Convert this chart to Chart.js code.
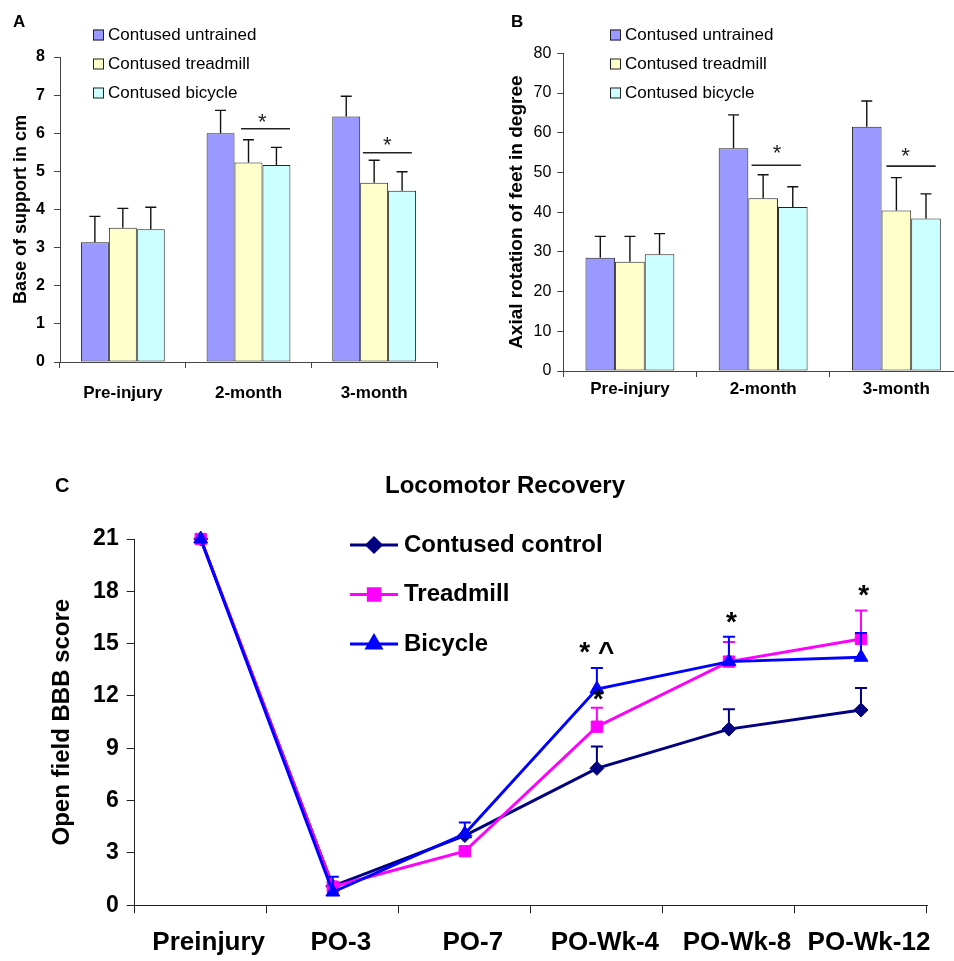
<!DOCTYPE html>
<html>
<head>
<meta charset="utf-8">
<script src="https://cdn.jsdelivr.net/npm/chart.js@4.4.0/dist/chart.umd.min.js"></script>
<style>
  html, body { margin: 0; padding: 0; background: #fff; overflow: hidden; width: 954px; height: 961px; }
  .box { position: absolute; }
  .lbl { position: absolute; font-family: 'Liberation Sans', Arial, sans-serif; font-weight: bold; line-height: 1; white-space: nowrap; color: #000; }
</style>
</head>
<body>
<div class="box" style="left:0;top:0"><canvas id="cA" width="470" height="420"></canvas></div>
<div class="box" style="left:470px;top:0"><canvas id="cB" width="500" height="420"></canvas></div>
<div class="box" style="left:0;top:430px"><canvas id="cC" width="954" height="531"></canvas></div>
<div class="lbl" style="left:13px;top:13px;font-size:17px">A</div>
<div class="lbl" style="left:511px;top:13px;font-size:17px">B</div>
<div class="lbl" style="left:55px;top:475px;font-size:20px">C</div>
<div class="lbl" style="left:385px;top:473px;font-size:24px">Locomotor Recovery</div>
<script>
// groups and time points
const groupLabels = ["Pre-injury", "2-month", "3-month"];
const groupNames = ["Contused untrained", "Contused treadmill", "Contused bicycle"];

// A - base of support (cm), mean and SD
const supportUntrained = [3.14, 6.00, 6.44];
const supportTreadmill = [3.52, 5.23, 4.70];
const supportBicycle = [3.48, 5.17, 4.49];
const supportUntrainedSd = [0.68, 0.60, 0.53];
const supportTreadmillSd = [0.51, 0.60, 0.59];
const supportBicycleSd = [0.58, 0.46, 0.50];
const supportAxis = [0, 8, 1];

// B - axial rotation of feet (degree)
const rotationUntrained = [28.5, 56.1, 61.5];
const rotationTreadmill = [27.5, 43.5, 40.4];
const rotationBicycle = [29.4, 41.3, 38.4];
const rotationUntrainedSd = [5.4, 8.4, 6.5];
const rotationTreadmillSd = [6.4, 5.9, 8.3];
const rotationBicycleSd = [5.2, 5.1, 6.2];
const rotationAxis = [0, 80, 10];

// C - open field BBB score
const timePoints = ["Preinjury", "PO-3", "PO-7", "PO-Wk-4", "PO-Wk-8", "PO-Wk-12"];
const lineNames = ["Contused control", "Treadmill", "Bicycle"];
const bbbControl = [21, 1.1, 4.0, 7.85, 10.1, 11.2];
const bbbTreadmill = [21, 1.07, 3.1, 10.24, 13.97, 15.27];
const bbbBicycle = [21, 0.76, 4.1, 12.4, 13.97, 14.22];
const bbbControlSd = [0, 0, 0, 1.25, 1.14, 1.26];
const bbbTreadmillSd = [0, 0, 0.1, 1.09, 1.13, 1.63];
const bbbBicycleSd = [0, 0.88, 0.65, 1.2, 1.43, 1.39];
const bbbAxis = [0, 21, 3];

const FONT = "'Liberation Sans', Arial, sans-serif";
Chart.defaults.font.family = FONT;
Chart.defaults.color = '#000';

// upward error bars (mean + SD)
const errorBars = {
  id: 'errorBars',
  afterDatasetsDraw(chart, args, o) {
    const ctx = chart.ctx, y = chart.scales.y;
    chart.data.datasets.forEach((ds, di) => {
      if (!ds.sd) return;
      const meta = chart.getDatasetMeta(di);
      ctx.save();
      ctx.strokeStyle = o.color || ds.borderColor;
      ctx.lineWidth = o.width;
      meta.data.forEach((el, i) => {
        const s = ds.sd[i];
        if (!s) return;
        const top = y.getPixelForValue(ds.data[i] + s);
        ctx.beginPath();
        ctx.moveTo(el.x, el.y);
        ctx.lineTo(el.x, top);
        ctx.moveTo(el.x - o.cap, top);
        ctx.lineTo(el.x + o.cap, top);
        ctx.stroke();
      });
      ctx.restore();
    });
  }
};

// significance lines and stars
const sigMarks = {
  id: 'sigMarks',
  afterDatasetsDraw(chart, args, o) {
    const ctx = chart.ctx, x = chart.scales.x, y = chart.scales.y;
    ctx.save();
    ctx.strokeStyle = ctx.fillStyle = o.color;
    ctx.lineWidth = o.lineWidth || 1.5;
    (o.lines || []).forEach(m => {
      const yy = y.getPixelForValue(m.y);
      ctx.beginPath();
      ctx.moveTo(x.getPixelForValue(m.at - m.half), yy);
      ctx.lineTo(x.getPixelForValue(m.at + m.half), yy);
      ctx.stroke();
    });
    ctx.textAlign = 'center';
    ctx.textBaseline = 'alphabetic';
    ctx.font = o.font;
    (o.texts || []).forEach(t => {
      ctx.fillText(t.text, x.getPixelForValue(t.at), y.getPixelForValue(t.y) + o.size * 0.57);
    });
    ctx.restore();
  }
};

// legend drawn as a column, free of the layout
const sideLegend = {
  id: 'sideLegend',
  afterDraw(chart, args, o) {
    const ctx = chart.ctx;
    ctx.save();
    chart.data.datasets.forEach((ds, i) => {
      const yy = o.top + i * o.gap;
      if (o.kind === 'box') {
        ctx.fillStyle = ds.backgroundColor;
        ctx.fillRect(o.x, yy - o.size / 2, o.size, o.size);
        ctx.strokeStyle = ds.borderColor;
        ctx.lineWidth = 1;
        ctx.strokeRect(o.x + 0.5, yy - o.size / 2 + 0.5, o.size - 1, o.size - 1);
      } else {
        ctx.strokeStyle = ds.borderColor;
        ctx.lineWidth = ds.borderWidth;
        ctx.beginPath();
        ctx.moveTo(o.x, yy);
        ctx.lineTo(o.x + o.len, yy);
        ctx.stroke();
        ctx.fillStyle = ds.pointBackgroundColor;
        Chart.helpers.drawPoint(ctx, {
          pointStyle: ds.pointStyle, radius: ds.pointRadius, borderWidth: 1, rotation: 0
        }, o.x + o.len / 2, yy);
      }
      ctx.fillStyle = '#000';
      ctx.font = o.font;
      ctx.textAlign = 'left';
      ctx.textBaseline = 'middle';
      ctx.fillText(ds.label, o.textX, yy);
    });
    ctx.restore();
  }
};

const barColors = ['#9999FF', '#FFFFCC', '#CCFFFF'];

function barPanel(id, series, sds, axis, cfg) {
  return new Chart(document.getElementById(id), {
    type: 'bar',
    data: {
      labels: groupLabels,
      datasets: series.map((vals, i) => ({
        label: groupNames[i],
        data: vals,
        sd: sds[i],
        backgroundColor: barColors[i],
        borderColor: '#222',
        borderWidth: 1,
        borderSkipped: false,
        categoryPercentage: 0.667,
        barPercentage: 1.0
      }))
    },
    options: {
      responsive: false,
      animation: false,
      layout: { padding: cfg.padding },
      plugins: {
        legend: { display: false },
        tooltip: { enabled: false },
        errorBars: { color: '#111', width: 1.4, cap: 5.5 },
        sigMarks: { color: '#222', lineWidth: 1.6, font: '22px ' + FONT, size: 22, lines: cfg.lines, texts: cfg.texts },
        sideLegend: { kind: 'box', x: cfg.legendX, textX: cfg.legendX + 15, top: 35, gap: 29, size: 11, font: '17px ' + FONT }
      },
      scales: {
        x: {
          afterFit: s => { s.height = cfg.xHeight; },
          grid: { display: true, drawOnChartArea: false, tickLength: 6, color: '#444', offset: true },
          border: { display: true, color: '#444', width: 1 },
          ticks: { font: { size: 17, weight: 'bold' }, padding: cfg.xPad, maxRotation: 0, autoSkip: false }
        },
        y: {
          min: axis[0], max: axis[1],
          afterFit: s => { s.width = cfg.yWidth; },
          grid: { display: true, drawOnChartArea: false, tickLength: 6, color: '#444' },
          border: { display: true, color: '#444', width: 1 },
          ticks: { stepSize: axis[2], font: cfg.tickFont, padding: cfg.yPad },
          title: { display: true, text: cfg.title, font: { size: cfg.titleSize, weight: 'bold' }, padding: { top: cfg.titlePad, bottom: 0 } }
        }
      }
    },
    plugins: [errorBars, sigMarks, sideLegend]
  });
}

barPanel('cA',
  [supportUntrained, supportTreadmill, supportBicycle],
  [supportUntrainedSd, supportTreadmillSd, supportBicycleSd],
  supportAxis, {
    padding: { top: 57, left: 0, right: 33, bottom: 0 },
    xHeight: 58, yWidth: 60, xPad: 15, yPad: 9,
    tickFont: { size: 16, weight: 'bold' },
    title: 'Base of support in cm', titleSize: 18, titlePad: 10,
    legendX: 93,
    lines: [{ at: 1.135, half: 0.195, y: 6.12 }, { at: 2.105, half: 0.195, y: 5.49 }],
    texts: [{ text: '*', at: 1.109, y: 6.43 }, { text: '*', at: 2.104, y: 5.83 }]
  });

barPanel('cB',
  [rotationUntrained, rotationTreadmill, rotationBicycle],
  [rotationUntrainedSd, rotationTreadmillSd, rotationBicycleSd],
  rotationAxis, {
    padding: { top: 53.3, left: 0, right: 7, bottom: 0 },
    xHeight: 49, yWidth: 93.3, xPad: 2, yPad: 6,
    tickFont: { size: 16 },
    title: 'Axial rotation of feet in degree', titleSize: 19, titlePad: 35,
    legendX: 140,
    lines: [{ at: 1.098, half: 0.185, y: 51.8 }, { at: 2.11, half: 0.185, y: 51.6 }],
    texts: [{ text: '*', at: 1.105, y: 56.2 }, { text: '*', at: 2.069, y: 55.5 }]
  });

const lineStyles = [
  { color: '#000080', point: 'rectRot', r: 7, order: 2 },
  { color: '#FF00FF', point: 'rect', r: 8, order: 1 },
  { color: '#0000FF', point: 'triangle', r: 8, order: 0 }
];

new Chart(document.getElementById('cC'), {
  type: 'line',
  data: {
    labels: timePoints,
    datasets: [bbbControl, bbbTreadmill, bbbBicycle].map((vals, i) => ({
      label: lineNames[i],
      data: vals,
      sd: [bbbControlSd, bbbTreadmillSd, bbbBicycleSd][i],
      borderColor: lineStyles[i].color,
      backgroundColor: lineStyles[i].color,
      pointBackgroundColor: lineStyles[i].color,
      pointBorderColor: lineStyles[i].color,
      pointStyle: lineStyles[i].point,
      pointRadius: lineStyles[i].r,
      pointBorderWidth: 1,
      borderWidth: 3,
      tension: 0,
      clip: false,
      order: lineStyles[i].order
    }))
  },
  options: {
    responsive: false,
    animation: false,
    layout: { padding: { top: 109, left: 0, right: 27, bottom: 0 } },
    plugins: {
      legend: { display: false },
      tooltip: { enabled: false },
      errorBars: { width: 2, cap: 6 },
      sigMarks: {
        color: '#000', font: 'bold 28px ' + FONT, size: 28,
        texts: [
          { text: '* ^', at: 3.0, y: 14.9 },
          { text: '*', at: 3.01, y: 12.2 },
          { text: '*', at: 4.02, y: 16.65 },
          { text: '*', at: 5.02, y: 18.18 }
        ]
      },
      sideLegend: { kind: 'line', x: 350, len: 48, textX: 404, top: 115, gap: 49.5, font: 'bold 24px ' + FONT }
    },
    scales: {
      x: {
        offset: true,
        afterFit: s => { s.height = 55.7; },
        grid: { display: true, drawOnChartArea: false, tickLength: 8, color: '#222', offset: true },
        border: { display: true, color: '#222', width: 1 },
        ticks: { font: { size: 26, weight: 'bold' }, padding: 14, labelOffset: 8, maxRotation: 0, minRotation: 0, autoSkip: false }
      },
      y: {
        min: bbbAxis[0], max: bbbAxis[1],
        afterFit: s => { s.width = 134.7; },
        grid: { display: true, drawOnChartArea: false, tickLength: 8, color: '#222' },
        border: { display: true, color: '#222', width: 1 },
        ticks: { stepSize: bbbAxis[2], font: { size: 23, weight: 'bold' }, padding: 8 },
        title: { display: true, text: 'Open field BBB score', font: { size: 24, weight: 'bold' }, padding: { top: 48, bottom: 0 } }
      }
    }
  },
  plugins: [errorBars, sigMarks, sideLegend]
});
</script>
</body>
</html>
